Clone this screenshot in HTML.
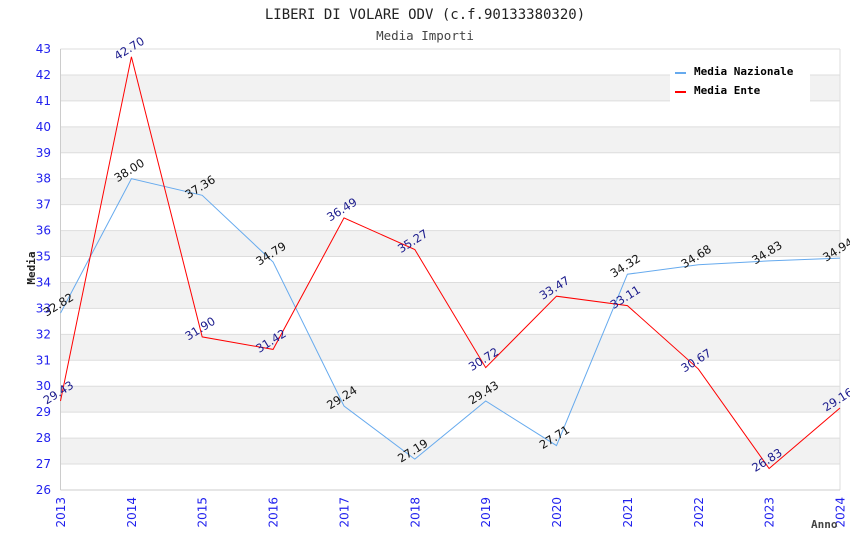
<!DOCTYPE html>
<html><head><meta charset="utf-8"><style>
html,body{margin:0;padding:0;background:#fff;}
svg{display:block;}
</style></head><body>
<svg id="chart" width="850" height="550" xmlns="http://www.w3.org/2000/svg">
<text x="425" y="19" text-anchor="middle" font-family="DejaVu Sans Mono, Liberation Mono, monospace" font-size="14" fill="#222">LIBERI DI VOLARE ODV (c.f.90133380320)</text>
<text x="425" y="40" text-anchor="middle" font-family="DejaVu Sans Mono, Liberation Mono, monospace" font-size="12.5" fill="#444">Media Importi</text>
<g id="bands"></g>
<g id="grid"></g>
<g id="yticks"></g>
<g id="xticks"></g>
<g id="lines"></g>
<g id="labels"></g>
<text transform="translate(35,268) rotate(-90)" text-anchor="middle" font-family="DejaVu Sans Mono, monospace" font-size="11" font-weight="bold" fill="#222">Media</text>
<text x="811" y="528" font-family="DejaVu Sans Mono, monospace" font-size="11" font-weight="bold" fill="#444">Anno</text>
<g>
<rect x="670" y="58" width="140" height="44" fill="#fff"/>
<line x1="675" y1="73" x2="686" y2="73" stroke="#66aaee" stroke-width="2"/>
<text x="694" y="75" font-family="DejaVu Sans Mono, monospace" font-size="11" font-weight="bold" fill="#000">Media Nazionale</text>
<line x1="675" y1="92" x2="686" y2="92" stroke="#ff0000" stroke-width="2"/>
<text x="694" y="94" font-family="DejaVu Sans Mono, monospace" font-size="11" font-weight="bold" fill="#000">Media Ente</text>
</g>
</svg>
<script>
const years = [2013,2014,2015,2016,2017,2018,2019,2020,2021,2022,2023,2024];
const nazionale = [32.82,38.00,37.36,34.79,29.24,27.19,29.43,27.71,34.32,34.68,34.83,34.94];
const ente = [29.43,42.70,31.90,31.42,36.49,35.27,30.72,33.47,33.11,30.67,26.83,29.16];
const yTicks = [26,27,28,29,30,31,32,33,34,35,36,37,38,39,40,41,42,43];

const NS = "http://www.w3.org/2000/svg";
const L = 60.5, R = 840, T = 49, B = 490, yMin = 26, yMax = 43;
const xs = i => L + (R - L) * i / (years.length - 1);
const ys = v => B - (B - T) * (v - yMin) / (yMax - yMin);
function mk(tag, attrs, parent, text) {
  const e = document.createElementNS(NS, tag);
  for (const k in attrs) e.setAttribute(k, attrs[k]);
  if (text !== undefined) e.textContent = text;
  document.getElementById(parent).appendChild(e);
  return e;
}
for (let v = yMin; v < yMax; v++) {
  if (v % 2 === 1) {
    const r = mk('rect', {x: L, y: ys(v + 1), width: R - L, height: ys(v) - ys(v + 1), fill: '#f2f2f2'}, 'bands');
    
    
  }
}
yTicks.forEach(v => {
  const g = mk('line', {x1: L, x2: R, y1: ys(v), y2: ys(v), stroke: '#dddddd', 'stroke-width': 1}, 'grid');
  
  
  const t = mk('text', {x: 51, y: ys(v) + 4, 'text-anchor': 'end', 'font-family': 'DejaVu Sans, sans-serif', 'font-size': 12, fill: '#2222ee'}, 'yticks', String(v));
  
  
});
const ax1 = mk('line', {x1: L, x2: L, y1: T, y2: B, stroke: '#cccccc'}, 'grid');


const ax2 = mk('line', {x1: R, x2: R, y1: T, y2: B, stroke: '#dddddd'}, 'grid');


const ax3 = mk('line', {x1: L, x2: R, y1: B, y2: B, stroke: '#cccccc'}, 'grid');


years.forEach((y, i) => {
  const t = mk('text', {transform: `translate(${xs(i) + 4.5},${497}) rotate(-90)`, 'text-anchor': 'end', 'font-family': 'DejaVu Sans, sans-serif', 'font-size': 12, fill: '#2222ee'}, 'xticks', String(y));
  
  
});
function series(vals, color, lblColor, name) {
  const pts = vals.map((v, i) => xs(i).toFixed(1) + ',' + ys(v).toFixed(1)).join(' ');
  const p = mk('polyline', {points: pts, fill: 'none', stroke: color, 'stroke-width': 1}, 'lines');
  
  
  vals.forEach((v, i) => {
    const t = mk('text', {transform: `translate(${xs(i)},${ys(v) - 5}) rotate(-32)`, 'text-anchor': 'middle', 'font-family': 'DejaVu Sans, sans-serif', 'font-size': 11.5, fill: lblColor}, 'labels', v.toFixed(2));
    
    
  });
}
series(nazionale, '#66aaee', '#111111', 'nazionale');
series(ente, '#ff0000', '#1a1a8c', 'ente');
</script>
</body></html>
